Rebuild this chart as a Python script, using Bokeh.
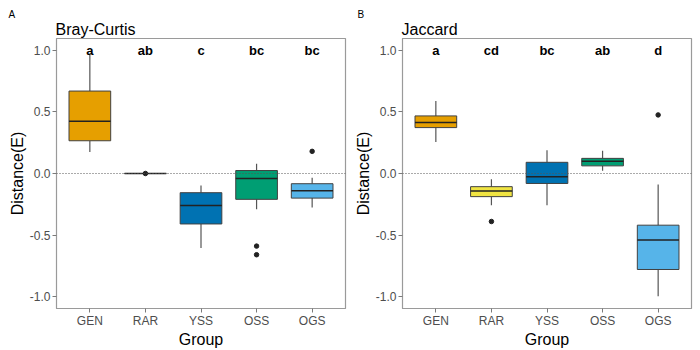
from bokeh.plotting import figure
from bokeh.layouts import row
from bokeh.models import Range1d, FixedTicker, Span, Title, ColumnDataSource
from bokeh.embed import file_html
from bokeh.resources import INLINE

groups = ["GEN", "RAR", "YSS", "OSS", "OGS"]
colors = ["#E69F00", "#F0E442", "#0072B2", "#009E73", "#56B4E9"]

# Bray-Curtis
bc_wlo = [0.175, 0.0, -0.605, -0.29, -0.277]
bc_q1 = [0.266, 0.0, -0.41, -0.21, -0.20]
bc_med = [0.425, 0.0, -0.26, -0.04, -0.14]
bc_q3 = [0.67, 0.0, -0.156, 0.024, -0.083]
bc_whi = [0.973, 0.0, -0.097, 0.08, -0.035]
bc_out_g = ["RAR", "OSS", "OSS", "OGS"]
bc_out_v = [0.0, -0.59, -0.66, 0.18]
bc_letters = ["a", "ab", "c", "bc", "bc"]

# Jaccard
jc_wlo = [0.256, -0.258, -0.258, 0.022, -0.998]
jc_q1 = [0.373, -0.188, -0.081, 0.062, -0.78]
jc_med = [0.414, -0.143, -0.027, 0.099, -0.54]
jc_q3 = [0.468, -0.107, 0.091, 0.123, -0.42]
jc_whi = [0.589, -0.046, 0.188, 0.185, -0.089]
jc_out_g = ["RAR", "OGS"]
jc_out_v = [-0.39, 0.476]
jc_letters = ["a", "cd", "bc", "ab", "d"]

FONT = "Liberation Sans"


def panel(title, tag, wlo, q1, med, q3, whi, out_g, out_v, letters, left, right, tag_x):
    p = figure(width=350, height=350, output_backend="svg", toolbar_location=None,
               x_range=Range1d(0.4, 5.6), y_range=Range1d(-1.097, 1.097),
               min_border_left=left, min_border_right=right,
               min_border_top=38, min_border_bottom=40)
    p.title = None
    p.add_layout(Title(text=title, align="left", offset=-1, standoff=2,
                       text_font=FONT, text_font_size="16px", text_font_style="normal",
                       text_color="#000000"), "above")
    p.add_layout(Title(text=tag, align="left", offset=tag_x, standoff=-5,
                       text_font=FONT, text_font_size="10px", text_font_style="normal",
                       text_color="#000000"), "above")
    xs = [groups.index(g) + 1 for g in groups]
    src = ColumnDataSource(dict(x=xs, wlo=wlo, q1=q1, med=med, q3=q3, whi=whi,
                                color=colors, letters=letters,
                                ly=[1.0] * len(groups)))
    p.segment(x0="x", x1="x", y0="q3", y1="whi", source=src, line_color="#555555", line_width=1.2)
    p.segment(x0="x", x1="x", y0="wlo", y1="q1", source=src, line_color="#555555", line_width=1.2)
    p.vbar(x="x", width=0.75, bottom="q1", top="q3", source=src, fill_color="color",
           line_color="#404040", line_width=1)
    p.rect(x="x", y="med", width=0.75, height=0.012, source=src, fill_color="#222222",
           line_color=None)
    ox = [groups.index(g) + 1 for g in out_g]
    p.scatter(ox, out_v, size=4.5, color="#222222")
    p.text(x="x", y="ly", text="letters", source=src, text_align="center",
           text_baseline="middle", text_font_size="13px", text_font_style="bold",
           text_font=dict(value=FONT), text_color="#000000")
    p.add_layout(Span(location=0, dimension="width", line_color="#555555",
                      line_dash="1 2", line_width=1))

    p.xgrid.visible = False
    p.ygrid.visible = False
    p.outline_line_color = "#9a9a9a"
    p.outline_line_width = 1.2

    p.xaxis.ticker = FixedTicker(ticks=xs)
    p.xaxis.major_label_overrides = {i + 1: g for i, g in enumerate(groups)}
    p.yaxis.ticker = FixedTicker(ticks=[-1.0, -0.5, 0.0, 0.5, 1.0])
    p.yaxis.major_label_overrides = {-1.0: "-1.0", -0.5: "-0.5", 0.0: "0.0", 0.5: "0.5", 1.0: "1.0"}
    p.xaxis.axis_label = "Group"
    p.yaxis.axis_label = "Distance(E)"
    for ax in (p.xaxis[0], p.yaxis[0]):
        ax.axis_line_color = "#9a9a9a"
        ax.major_tick_line_color = "#7a7a7a"
        ax.major_tick_in = 0
        ax.major_tick_out = 4
        ax.minor_tick_line_color = None
        ax.major_label_text_font = FONT
        ax.major_label_text_font_size = "12px"
        ax.major_label_text_color = "#4d4d4d"
        ax.axis_label_text_font = FONT
        ax.axis_label_text_font_size = "16px"
        ax.axis_label_text_font_style = "normal"
        ax.axis_label_text_color = "#000000"
        ax.major_label_standoff = 2
    p.xaxis[0].major_label_standoff = 1
    p.xaxis[0].axis_label_standoff = 0
    p.yaxis[0].axis_label_standoff = 1
    return p


p1 = panel("Bray-Curtis", "A", bc_wlo, bc_q1, bc_med, bc_q3, bc_whi, bc_out_g, bc_out_v,
           bc_letters, 56, 5, -48)
p2 = panel("Jaccard", "B", jc_wlo, jc_q1, jc_med, jc_q3, jc_whi, jc_out_g, jc_out_v,
           jc_letters, 52, 9, -45)

layout = row(p1, p2)
open("out.html", "w").write(file_html(layout, INLINE))
